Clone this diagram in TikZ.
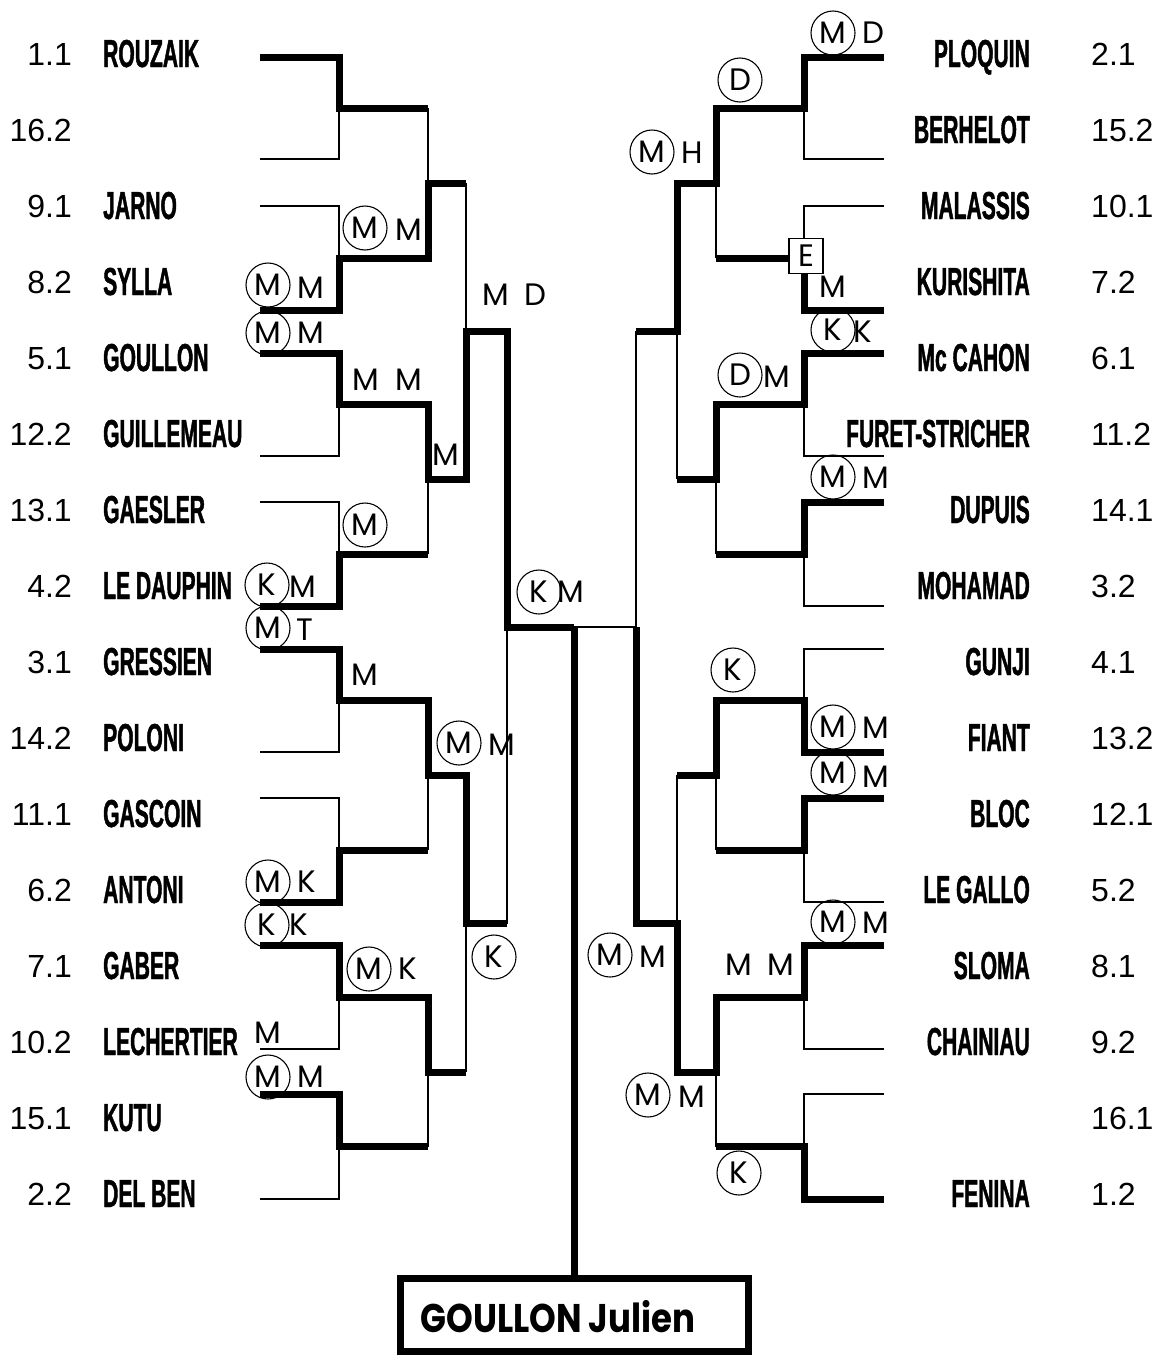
\documentclass[tikz,border=0pt]{standalone}
\usepackage{fontspec}
\newfontfamily\namefont[FakeStretch=0.54,FakeBold=1.1]{Liberation Sans Bold}
\newfontfamily\numfont{Liberation Sans}
\newfontfamily\resfont{Poppins}
\newfontfamily\champfont[FakeStretch=0.85]{Poppins}
\begin{document}
\begin{tikzpicture}[x=1pt,y=-1pt,
  thin line/.style={line width=2.2pt},
  win/.style={line width=7pt},
  seed/.style={inner sep=0pt, font=\numfont\fontsize{32}{32}\selectfont},
  player/.style={inner sep=0pt, font=\namefont\fontsize{39}{39}\selectfont},
  res/.style={circle, draw, line width=1.1pt, minimum size=44pt, inner sep=0pt,
    font=\resfont\fontsize{31}{31}\selectfont},
  ltr/.style={inner sep=0pt, font=\resfont\fontsize{31}{31}\selectfont},
  ebox/.style={draw, fill=white, line width=1.1pt, minimum width=34pt,
    minimum height=35pt, inner sep=0pt, font=\resfont\fontsize{31}{31}\selectfont},
  champbox/.style={draw, line width=7pt, minimum width=348pt, minimum height=73pt},
  champname/.style={inner sep=0pt, font=\champfont\bfseries\fontsize{40}{40}\selectfont}]

\useasboundingbox (0,0) rectangle (1157,1355);

% Lines of the players
\foreach \i/\y in {0/57,1/159,2/206,3/310,4/353,5/456,6/502,7/606,
                   8/649,9/752,10/798,11/902,12/945,13/1049,14/1094,15/1199} {
  \coordinate (pl\i) at (260,\y);
  \coordinate (pr\i) at (884,\y);
}

% Players, left half
\foreach \i/\s/\n in {0/1.1/ROUZAIK, 1/16.2/, 2/9.1/JARNO, 3/8.2/SYLLA,
    4/5.1/GOULLON, 5/12.2/GUILLEMEAU, 6/13.1/GAESLER, 7/4.2/LE DAUPHIN,
    8/3.1/GRESSIEN, 9/14.2/POLONI, 10/11.1/GASCOIN, 11/6.2/ANTONI,
    12/7.1/GABER, 13/10.2/LECHERTIER, 14/15.1/KUTU, 15/2.2/DEL BEN} {
  \node[seed, anchor=base east] (ls\i) at (72,{65+76*\i}) {\s};
  \node[player, anchor=base west] (ln\i) at (103,{67+76*\i}) {\n};
}

% Players, right half
\foreach \i/\s/\n in {0/2.1/PLOQUIN, 1/15.2/BERHELOT, 2/10.1/MALASSIS,
    3/7.2/KURISHITA, 4/6.1/Mc CAHON, 5/11.2/FURET-STRICHER, 6/14.1/DUPUIS,
    7/3.2/MOHAMAD, 8/4.1/GUNJI, 9/13.2/FIANT, 10/12.1/BLOC, 11/5.2/LE GALLO,
    12/8.1/SLOMA, 13/9.2/CHAINIAU, 14/16.1/, 15/1.2/FENINA} {
  \node[seed, anchor=base west] (rs\i) at (1091,{65+76*\i}) {\s};
  \node[player, anchor=base east] (rn\i) at (1030,{67+76*\i}) {\n};
}

% Winner box
\node[champbox] (champ) at (574,1315) {};
\node[champname] (champtxt) at (558,1317) {GOULLON Julien};

% First round
\foreach \a/\b/\ya/\yb in {0/1/57/159, 2/3/206/310, 4/5/353/456, 6/7/502/606,
    8/9/649/752, 10/11/798/902, 12/13/945/1049, 14/15/1094/1199} {
  \draw[thin line] (pl\a) -| (339,\yb) -- (pl\b);
  \draw[thin line] (339,{(\ya+\yb)/2}) -- (428,{(\ya+\yb)/2});
  \draw[thin line] (pr\a) -| (804,\yb) -- (pr\b);
  \draw[thin line] (804,{(\ya+\yb)/2}) -- (716,{(\ya+\yb)/2});
}
% Second round
\foreach \ya/\yb in {108/258, 404.5/554, 700.5/850, 997/1146.5} {
  \draw[thin line] (428,\ya) -- (428,\yb);
  \draw[thin line] (428,{(\ya+\yb)/2}) -- (466,{(\ya+\yb)/2});
  \draw[thin line] (716,\ya) -- (716,\yb);
  \draw[thin line] (716,{(\ya+\yb)/2}) -- (677,{(\ya+\yb)/2});
}
% Quarter finals
\foreach \ya/\yb in {183/479, 775/1072} {
  \draw[thin line] (466,\ya) -- (466,\yb);
  \draw[thin line] (466,{(\ya+\yb)/2}) -- (507,{(\ya+\yb)/2});
  \draw[thin line] (677,\ya) -- (677,\yb);
  \draw[thin line] (677,{(\ya+\yb)/2}) -- (636,{(\ya+\yb)/2});
}
% Semi finals
\coordinate (fin) at (574,627);
\draw[thin line] (507,331) -- (507,923.5);
\draw[thin line] (636,331) -- (636,923.5);
\draw[thin line] (636,627) -- (fin);

% Winners, left half
\draw[win] (pl0) -| (339,108) -- (428,108);
\draw[win] (pl3) -| (339,258) -| (428,183) -- (466,183);
\draw[win] (pl4) -| (339,404.5) -| (428,479) -| (466,331) -| (507,627) -- (fin);
\draw[win] (fin) -- (champ.north);
\draw[win] (pl7) -| (339,554) -- (428,554);
\draw[win] (pl8) -| (339,700.5) -| (428,775) -| (466,923.5) -- (507,923.5);
\draw[win] (pl11) -| (339,850) -- (428,850);
\draw[win] (pl12) -| (339,997) -| (428,1072) -- (466,1072);
\draw[win] (pl14) -| (339,1146.5) -- (428,1146.5);

% Winners, right half
\draw[win] (pr0) -| (804,108) -| (716,183) -| (677,331) -- (636,331);
\draw[win] (pr3) -| (804,258) -- (716,258);
\draw[win] (pr4) -| (804,404.5) -| (716,479) -- (677,479);
\draw[win] (pr6) -| (804,554) -- (716,554);
\draw[win] (pr9) -| (804,700.5) -| (716,775) -- (677,775);
\draw[win] (pr10) -| (804,850) -- (716,850);
\draw[win] (pr12) -| (804,997) -| (716,1072) -| (677,923.5) -| (636,627);
\draw[win] (pr15) -| (804,1146.5) -- (716,1146.5);

% Circled results
\foreach \x/\y/\t [count=\c] in {365/228/M, 268/285/M, 268/333/M, 365/525/M,
    267/585/K, 268/628/M, 459/743/M, 539/592/K, 268/882/M, 267/925/K,
    369/969/M, 494/957/K, 268/1077/M, 833/33/M, 740/80/D, 652/152/M,
    833/330/K, 740/375/D, 833/477/M, 733/670/K, 833/727/M, 833/773/M,
    833/922/M, 610/955/M, 648/1095/M, 739/1173/K}
  \node[res] (res\c) at (\x,\y) {\t};

% Plain results
\foreach \x/\y/\t [count=\c] in {409/230/M, 311/288/M, 311/333/M, 366/380/M,
    409/380/M, 496/295/M, 535/295/D, 446/455/M, 303/587/M, 305/630/T,
    365/675/M, 502/745/M, 571/592/M, 307/882/K, 299/925/K, 408/969/K,
    268/1033/M, 311/1077/M, 873/33/D, 692/153/H, 833/287/M, 863/332/K,
    777/377/M, 876/478/M, 876/728/M, 876/777/M, 876/923/M, 653/957/M,
    739/965/M, 781/965/M, 692/1097/M}
  \node[ltr] (ltr\c) at (\x,\y) {\t};

\node[ebox] (e1) at (806,256) {E};
\end{tikzpicture}
\end{document}
